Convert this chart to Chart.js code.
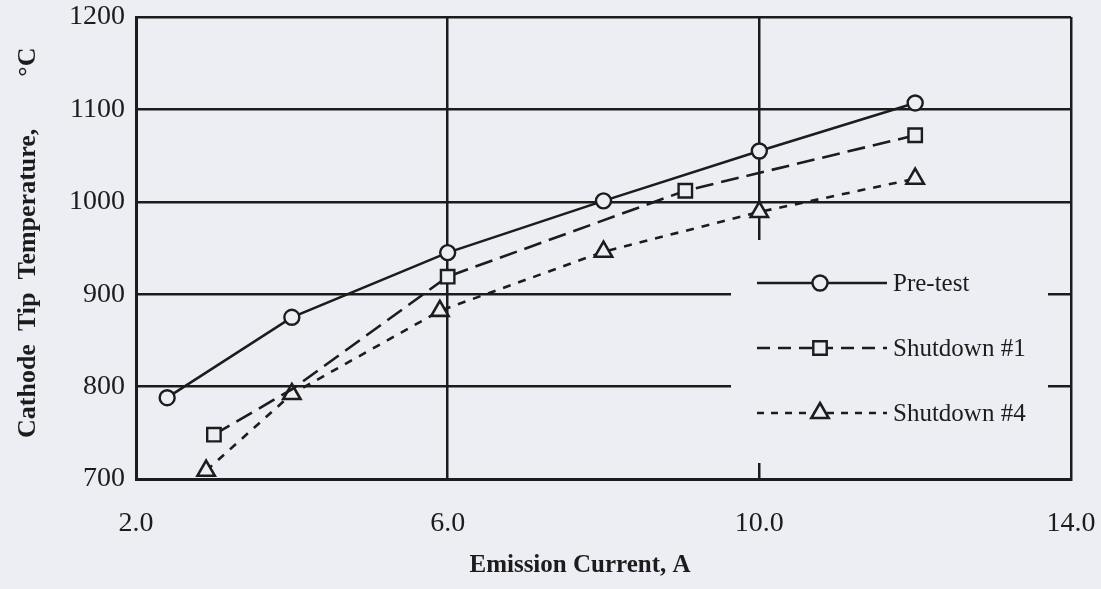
<!DOCTYPE html>
<html>
<head>
<meta charset="utf-8">
<script src="https://cdn.jsdelivr.net/npm/chart.js@4/dist/chart.umd.min.js"></script>
<style>
  html, body { margin: 0; padding: 0; background: #edeef3; }
  #wrap { width: 1101px; height: 589px; }
</style>
</head>
<body>
<div id="wrap"><canvas id="c" width="1101" height="589"></canvas></div>
<script>
// Axis ticks
const xTicks = [2.0, 6.0, 10.0, 14.0];
const yTicks = [700, 800, 900, 1000, 1100, 1200];

// Cathode tip temperature (°C) versus emission current (A)
const preTestCurrent = [2.4, 4.0, 6.0, 8.0, 10.0, 12.0];
const preTestTemp    = [788, 875, 945, 1001, 1055, 1107];

const shutdown1Current = [3.0, 4.0, 6.0, 9.05, 12.0];
const shutdown1Temp    = [748, 797, 919, 1012, 1072];

const shutdown4Current = [2.9, 4.0, 5.9, 8.0, 10.0, 12.0];
const shutdown4Temp    = [709, 792, 882, 946, 989, 1025];

const seriesNames = ['Pre-test', 'Shutdown #1', 'Shutdown #4'];

const xTitle = 'Emission Current, A';
const yTitle = 'Cathode  Tip  Temperature,        °C';

// Shutdown #1 reading whose marker sits under the Shutdown #4 triangle
const shutdown1CoveredAt = 4.0;

const paper = '#edeef3';
const ink = '#1c1c1c';
const serif = '"Liberation Serif", "Times New Roman", serif';

function pairs(xs, ys) { return xs.map((x, i) => ({ x: x, y: ys[i] })); }

function drawMarker(ctx, style, x, y, r) {
  ctx.beginPath();
  if (style === 'circle') {
    ctx.arc(x, y, r, 0, Math.PI * 2);
  } else if (style === 'rect') {
    const s = r * Math.SQRT1_2;
    ctx.rect(x - s, y - s, 2 * s, 2 * s);
  } else if (style === 'triangle') {
    for (let k = 0; k < 3; k++) {
      const a = -Math.PI / 2 + k * 2 * Math.PI / 3;
      const px = x + r * Math.cos(a), py = y + r * Math.sin(a);
      if (k === 0) ctx.moveTo(px, py); else ctx.lineTo(px, py);
    }
  }
  ctx.closePath();
  ctx.fillStyle = paper;
  ctx.fill();
  ctx.stroke();
}

// Clears the grid behind the key, then draws the key and the axis titles
const keyAndTitles = {
  id: 'keyAndTitles',
  beforeDatasetsDraw(chart) {
    const ctx = chart.ctx;
    ctx.save();
    ctx.fillStyle = paper;
    ctx.fillRect(731, 240, 1048 - 731, 463 - 240);
    ctx.restore();
  },
  afterDraw(chart) {
    const ctx = chart.ctx;
    const rows = [283, 348, 413];
    ctx.save();
    chart.data.datasets.forEach((ds, i) => {
      const y = rows[i];
      ctx.strokeStyle = ink;
      ctx.lineWidth = ds.borderWidth;
      ctx.setLineDash(ds.keyDash || []);
      ctx.beginPath();
      ctx.moveTo(757, y);
      ctx.lineTo(887, y);
      ctx.stroke();
      ctx.setLineDash([]);
      ctx.lineWidth = ds.pointBorderWidth;
      drawMarker(ctx, ds.pointStyle, 820, y, ds.keyRadius);
      ctx.fillStyle = ink;
      ctx.font = '25px ' + serif;
      ctx.textAlign = 'left';
      ctx.textBaseline = 'middle';
      ctx.fillText(ds.label, 893, y + 1);
    });

    ctx.fillStyle = ink;
    ctx.font = 'bold 25px ' + serif;
    ctx.textAlign = 'center';
    ctx.textBaseline = 'middle';
    ctx.fillText(xTitle, 580, 566);

    ctx.font = 'bold 26px ' + serif;
    ctx.translate(28, 438);
    ctx.rotate(-Math.PI / 2);
    ctx.textAlign = 'left';
    ctx.fillText(yTitle, 0, 0);
    ctx.restore();
  }
};

new Chart(document.getElementById('c'), {
  type: 'scatter',
  data: {
    datasets: [
      {
        label: seriesNames[0],
        data: pairs(preTestCurrent, preTestTemp),
        showLine: true,
        borderColor: ink,
        borderWidth: 2.6,
        pointStyle: 'circle',
        pointRadius: 7.5,
        keyRadius: 7.5,
        pointBorderWidth: 2.4,
        pointBorderColor: ink,
        pointBackgroundColor: paper,
        tension: 0
      },
      {
        label: seriesNames[1],
        data: pairs(shutdown1Current, shutdown1Temp),
        showLine: true,
        borderColor: ink,
        borderWidth: 2.6,
        borderDash: [18, 8],
        keyDash: [13, 8],
        pointStyle: 'rect',
        pointRadius: ctx => (ctx.raw && ctx.raw.x === shutdown1CoveredAt ? 0 : 9.5),
        keyRadius: 9.5,
        pointBorderWidth: 2.4,
        pointBorderColor: ink,
        pointBackgroundColor: paper,
        tension: 0
      },
      {
        label: seriesNames[2],
        data: pairs(shutdown4Current, shutdown4Temp),
        showLine: true,
        borderColor: ink,
        borderWidth: 2.6,
        borderDash: [8, 8],
        keyDash: [7, 7],
        pointStyle: 'triangle',
        pointRadius: 10,
        keyRadius: 10,
        pointBorderWidth: 2.6,
        pointBorderColor: ink,
        pointBackgroundColor: paper,
        tension: 0
      }
    ]
  },
  options: {
    responsive: false,
    animation: false,
    events: [],
    layout: { padding: { top: 17, right: 30, left: 0, bottom: 0 } },
    plugins: { legend: { display: false }, tooltip: { enabled: false } },
    scales: {
      x: {
        type: 'linear',
        min: xTicks[0],
        max: xTicks[xTicks.length - 1],
        afterFit(scale) {
          scale.height = 110;
          scale.paddingLeft = 0;
          scale.paddingRight = 0;
        },
        afterBuildTicks(scale) { scale.ticks = xTicks.map(v => ({ value: v })); },
        ticks: {
          color: ink,
          font: { family: serif, size: 28 },
          padding: 28,
          maxRotation: 0,
          callback: v => v.toFixed(1)
        },
        grid: { color: ink, lineWidth: 2.5, drawTicks: false },
        border: { color: ink, width: 3 }
      },
      y: {
        type: 'linear',
        min: yTicks[0],
        max: yTicks[yTicks.length - 1],
        afterFit(scale) {
          scale.width = 136;
          scale.paddingTop = 0;
          scale.paddingBottom = 0;
        },
        afterBuildTicks(scale) { scale.ticks = yTicks.map(v => ({ value: v })); },
        ticks: {
          color: ink,
          font: { family: serif, size: 28 },
          padding: 11,
          callback: v => String(v)
        },
        grid: { color: ink, lineWidth: 2.5, drawTicks: false },
        border: { color: ink, width: 3 }
      }
    }
  },
  plugins: [keyAndTitles]
});
</script>
</body>
</html>
